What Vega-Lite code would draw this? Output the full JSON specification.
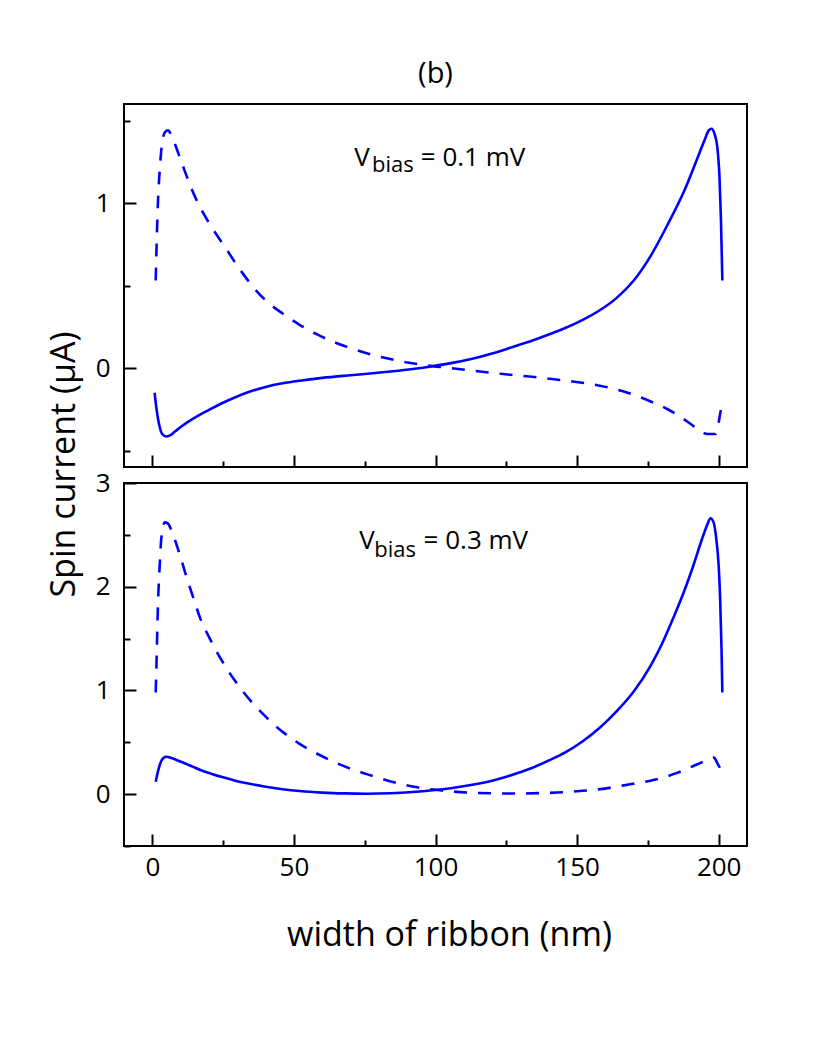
{
  "$schema": "https://vega.github.io/schema/vega-lite/v6.json",
  "padding": {"left": 46, "top": 60, "right": 5, "bottom": 5},
  "background": "white",
  "title": {"text": "(b)", "fontSize": 29, "fontWeight": "normal", "font": "Open Sans", "color": "black", "anchor": "middle", "frame": "group", "offset": 14},
  "config": {
    "font": "Open Sans",
    "title": {"fontSize": 29, "fontWeight": "normal", "font": "Open Sans", "color": "black"},
    "view": {"stroke": "black", "strokeWidth": 2},
    "axis": {"labelFont": "Open Sans", "labelFontSize": 26, "labelColor": "black", "tickColor": "black", "tickWidth": 2, "titleFont": "Open Sans", "titleFontSize": 34, "titleFontWeight": "normal", "titleColor": "black", "grid": false, "domain": false, "labelFlush": false, "labelOverlap": false}
  },
  "datasets": {
    "top_solid": [
      {"x": 0.8, "y": -0.15}, {"x": 1.5, "y": -0.25}, {"x": 2.5, "y": -0.35}, {"x": 3.5, "y": -0.4}, {"x": 4.9, "y": -0.415}, {"x": 6, "y": -0.41}, {"x": 8, "y": -0.385}, {"x": 10, "y": -0.358}, {"x": 13, "y": -0.322}, {"x": 16.7, "y": -0.284}, {"x": 20, "y": -0.254}, {"x": 24, "y": -0.218}, {"x": 28.5, "y": -0.183}, {"x": 34, "y": -0.146}, {"x": 40, "y": -0.115}, {"x": 46, "y": -0.093}, {"x": 52, "y": -0.077}, {"x": 60, "y": -0.06}, {"x": 70, "y": -0.044}, {"x": 76, "y": -0.035}, {"x": 85, "y": -0.02}, {"x": 92, "y": -0.006}, {"x": 99, "y": 0.011}, {"x": 106, "y": 0.031}, {"x": 113, "y": 0.056}, {"x": 120, "y": 0.088}, {"x": 127, "y": 0.126}, {"x": 134, "y": 0.165}, {"x": 140, "y": 0.203}, {"x": 146, "y": 0.244}, {"x": 152, "y": 0.292}, {"x": 158, "y": 0.35}, {"x": 164, "y": 0.425}, {"x": 170, "y": 0.53}, {"x": 176, "y": 0.68}, {"x": 182, "y": 0.87}, {"x": 188, "y": 1.08}, {"x": 192, "y": 1.25}, {"x": 195, "y": 1.38}, {"x": 196.5, "y": 1.44}, {"x": 197.5, "y": 1.45}, {"x": 198.5, "y": 1.42}, {"x": 199.5, "y": 1.34}, {"x": 200.3, "y": 1.15}, {"x": 200.8, "y": 0.9}, {"x": 201.3, "y": 0.53}
    ],
    "top_dash": [
      {"x": 1.2, "y": 0.53}, {"x": 1.6, "y": 0.8}, {"x": 2, "y": 1.01}, {"x": 2.7, "y": 1.22}, {"x": 3.5, "y": 1.37}, {"x": 4.5, "y": 1.43}, {"x": 5.5, "y": 1.44}, {"x": 7, "y": 1.4}, {"x": 9, "y": 1.31}, {"x": 11, "y": 1.215}, {"x": 14, "y": 1.08}, {"x": 17, "y": 0.97}, {"x": 20, "y": 0.88}, {"x": 23, "y": 0.8}, {"x": 26, "y": 0.725}, {"x": 29, "y": 0.645}, {"x": 32, "y": 0.572}, {"x": 35, "y": 0.503}, {"x": 40, "y": 0.41}, {"x": 46, "y": 0.33}, {"x": 52, "y": 0.262}, {"x": 58, "y": 0.205}, {"x": 64, "y": 0.158}, {"x": 70, "y": 0.12}, {"x": 76, "y": 0.088}, {"x": 82, "y": 0.062}, {"x": 88, "y": 0.04}, {"x": 95, "y": 0.02}, {"x": 105, "y": 0.0}, {"x": 114, "y": -0.018}, {"x": 123, "y": -0.035}, {"x": 135, "y": -0.055}, {"x": 146, "y": -0.077}, {"x": 158, "y": -0.107}, {"x": 164, "y": -0.13}, {"x": 170, "y": -0.162}, {"x": 176, "y": -0.203}, {"x": 182, "y": -0.25}, {"x": 186, "y": -0.29}, {"x": 190, "y": -0.338}, {"x": 193, "y": -0.375}, {"x": 196, "y": -0.4}, {"x": 199, "y": -0.4}, {"x": 200, "y": -0.33}, {"x": 200.7, "y": -0.26}, {"x": 201.3, "y": -0.22}
    ],
    "bot_solid": [
      {"x": 1.2, "y": 0.12}, {"x": 2, "y": 0.22}, {"x": 3, "y": 0.31}, {"x": 4, "y": 0.35}, {"x": 5, "y": 0.36}, {"x": 7, "y": 0.345}, {"x": 9, "y": 0.325}, {"x": 11, "y": 0.303}, {"x": 14, "y": 0.268}, {"x": 17, "y": 0.232}, {"x": 21, "y": 0.195}, {"x": 25, "y": 0.162}, {"x": 29, "y": 0.132}, {"x": 34, "y": 0.102}, {"x": 40, "y": 0.072}, {"x": 46, "y": 0.048}, {"x": 52, "y": 0.03}, {"x": 60, "y": 0.015}, {"x": 68, "y": 0.007}, {"x": 76, "y": 0.004}, {"x": 84, "y": 0.008}, {"x": 92, "y": 0.02}, {"x": 99, "y": 0.037}, {"x": 106, "y": 0.06}, {"x": 113, "y": 0.09}, {"x": 120, "y": 0.13}, {"x": 127, "y": 0.185}, {"x": 134, "y": 0.252}, {"x": 140, "y": 0.325}, {"x": 146, "y": 0.405}, {"x": 152, "y": 0.51}, {"x": 158, "y": 0.64}, {"x": 164, "y": 0.8}, {"x": 170, "y": 0.99}, {"x": 176, "y": 1.24}, {"x": 180, "y": 1.45}, {"x": 184, "y": 1.7}, {"x": 188, "y": 1.97}, {"x": 191, "y": 2.2}, {"x": 194, "y": 2.45}, {"x": 196, "y": 2.6}, {"x": 197.1, "y": 2.66}, {"x": 198.2, "y": 2.62}, {"x": 199.2, "y": 2.45}, {"x": 200, "y": 2.2}, {"x": 200.5, "y": 1.9}, {"x": 201, "y": 1.4}, {"x": 201.3, "y": 0.98}
    ],
    "bot_dash": [
      {"x": 1.2, "y": 0.98}, {"x": 1.6, "y": 1.4}, {"x": 2, "y": 1.83}, {"x": 2.6, "y": 2.2}, {"x": 3.2, "y": 2.47}, {"x": 4.4, "y": 2.62}, {"x": 5.5, "y": 2.61}, {"x": 6.5, "y": 2.56}, {"x": 8, "y": 2.45}, {"x": 9.7, "y": 2.31}, {"x": 12, "y": 2.1}, {"x": 14.4, "y": 1.9}, {"x": 17, "y": 1.69}, {"x": 20.3, "y": 1.5}, {"x": 23, "y": 1.36}, {"x": 26.2, "y": 1.215}, {"x": 29, "y": 1.1}, {"x": 32, "y": 0.99}, {"x": 36, "y": 0.86}, {"x": 40.3, "y": 0.74}, {"x": 44, "y": 0.645}, {"x": 48.5, "y": 0.55}, {"x": 52, "y": 0.485}, {"x": 56.8, "y": 0.41}, {"x": 60, "y": 0.365}, {"x": 65, "y": 0.3}, {"x": 70, "y": 0.245}, {"x": 75.7, "y": 0.193}, {"x": 81, "y": 0.148}, {"x": 87.5, "y": 0.1}, {"x": 93, "y": 0.068}, {"x": 99.3, "y": 0.044}, {"x": 105, "y": 0.028}, {"x": 111, "y": 0.016}, {"x": 120, "y": 0.008}, {"x": 128.7, "y": 0.006}, {"x": 137, "y": 0.01}, {"x": 146.4, "y": 0.02}, {"x": 152, "y": 0.032}, {"x": 158.2, "y": 0.048}, {"x": 163, "y": 0.068}, {"x": 167.7, "y": 0.09}, {"x": 172, "y": 0.11}, {"x": 175.9, "y": 0.13}, {"x": 181, "y": 0.165}, {"x": 185.3, "y": 0.205}, {"x": 190, "y": 0.258}, {"x": 193.6, "y": 0.302}, {"x": 196, "y": 0.33}, {"x": 198.3, "y": 0.353}, {"x": 199.5, "y": 0.3}, {"x": 200.7, "y": 0.24}
    ],
    "top_main": [
      {"x": 71.3, "y": 1.226, "t": "V"},
      {"x": 94.8, "y": 1.226, "t": "= 0.1 mV"}
    ],
    "top_sub": [
      {"x": 77.6, "y": 1.185, "t": "bias"}
    ],
    "bot_main": [
      {"x": 73.1, "y": 2.363, "t": "V"},
      {"x": 95.8, "y": 2.363, "t": "= 0.3 mV"}
    ],
    "bot_sub": [
      {"x": 78.4, "y": 2.288, "t": "bias"}
    ]
  },
  "spacing": 16,
  "bounds": "flush",
  "vconcat": [
    {
      "width": 623,
      "height": 363,
      "layer": [
        {
          "data": {"name": "top_solid"},
          "mark": {"type": "line", "color": "#0000ff", "strokeWidth": 2.6, "interpolate": "monotone"},
          "encoding": {
            "x": {"field": "x", "type": "quantitative", "scale": {"domain": [-10, 210], "nice": false, "zero": false}, "axis": {"orient": "bottom", "values": [0, 50, 100, 150, 200], "tickSize": -12, "labels": false, "title": null}},
            "y": {"field": "y", "type": "quantitative", "scale": {"domain": [-0.6, 1.6], "nice": false, "zero": false}, "axis": {"orient": "left", "values": [0, 1], "tickSize": -12, "labelPadding": 26, "title": "Spin current (μA)", "titlePadding": 14, "titleY": 360}}
          }
        },
        {
          "data": {"name": "top_dash"},
          "mark": {"type": "line", "color": "#0000ff", "strokeWidth": 2.6, "strokeDash": [13, 11], "interpolate": "monotone"},
          "encoding": {
            "x": {"field": "x", "type": "quantitative", "axis": {"orient": "bottom", "values": [25, 75, 125, 175], "tickSize": -6, "labels": false, "title": null}},
            "y": {"field": "y", "type": "quantitative", "axis": {"orient": "left", "values": [-0.5, 0.5, 1.5], "tickSize": -6, "labels": false, "title": null}}
          }
        },
        {
          "data": {"name": "top_main"},
          "mark": {"type": "text", "align": "left", "baseline": "alphabetic", "fontSize": 26, "font": "Open Sans", "color": "black"},
          "encoding": {
            "x": {"field": "x", "type": "quantitative", "axis": null},
            "y": {"field": "y", "type": "quantitative", "axis": null},
            "text": {"field": "t"}
          }
        },
        {
          "data": {"name": "top_sub"},
          "mark": {"type": "text", "align": "left", "baseline": "alphabetic", "fontSize": 22, "font": "Open Sans", "color": "black"},
          "encoding": {
            "x": {"field": "x", "type": "quantitative", "axis": null},
            "y": {"field": "y", "type": "quantitative", "axis": null},
            "text": {"field": "t"}
          }
        }
      ],
      "resolve": {"axis": {"x": "independent", "y": "independent"}}
    },
    {
      "width": 623,
      "height": 363,
      "layer": [
        {
          "data": {"name": "bot_solid"},
          "mark": {"type": "line", "color": "#0000ff", "strokeWidth": 2.6, "interpolate": "monotone"},
          "encoding": {
            "x": {"field": "x", "type": "quantitative", "scale": {"domain": [-10, 210], "nice": false, "zero": false}, "axis": {"orient": "bottom", "values": [0, 50, 100, 150, 200], "tickSize": -12, "labelPadding": 20, "title": "width of ribbon (nm)", "titlePadding": 38, "titleX": 325}},
            "y": {"field": "y", "type": "quantitative", "scale": {"domain": [-0.5, 3], "nice": false, "zero": false}, "axis": {"orient": "left", "values": [0, 1, 2, 3], "tickSize": -12, "labelPadding": 26, "title": null}}
          }
        },
        {
          "data": {"name": "bot_dash"},
          "mark": {"type": "line", "color": "#0000ff", "strokeWidth": 2.6, "strokeDash": [13, 11], "interpolate": "monotone"},
          "encoding": {
            "x": {"field": "x", "type": "quantitative", "axis": {"orient": "bottom", "values": [25, 75, 125, 175], "tickSize": -6, "labels": false, "title": null}},
            "y": {"field": "y", "type": "quantitative", "axis": {"orient": "left", "values": [-0.5, 0.5, 1.5, 2.5], "tickSize": -6, "labels": false, "title": null}}
          }
        },
        {
          "data": {"name": "bot_main"},
          "mark": {"type": "text", "align": "left", "baseline": "alphabetic", "fontSize": 26, "font": "Open Sans", "color": "black"},
          "encoding": {
            "x": {"field": "x", "type": "quantitative", "axis": null},
            "y": {"field": "y", "type": "quantitative", "axis": null},
            "text": {"field": "t"}
          }
        },
        {
          "data": {"name": "bot_sub"},
          "mark": {"type": "text", "align": "left", "baseline": "alphabetic", "fontSize": 22, "font": "Open Sans", "color": "black"},
          "encoding": {
            "x": {"field": "x", "type": "quantitative", "axis": null},
            "y": {"field": "y", "type": "quantitative", "axis": null},
            "text": {"field": "t"}
          }
        }
      ],
      "resolve": {"axis": {"x": "independent", "y": "independent"}}
    }
  ]
}
